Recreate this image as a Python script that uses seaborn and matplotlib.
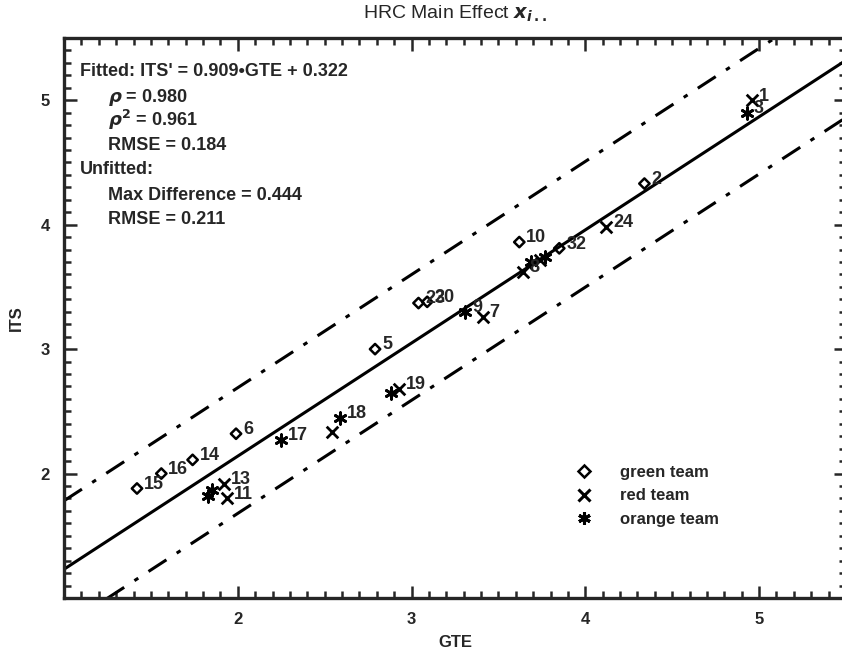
import numpy as np
import pandas as pd
import matplotlib
matplotlib.use("Agg")
import matplotlib.pyplot as plt
from matplotlib.lines import Line2D
from matplotlib.ticker import MultipleLocator
import seaborn as sns

# point data
teams = ["green team"] * 10 + ["red team"] * 9 + ["orange team"] * 9
labels = ["15", "16", "14", "6", "5", "23", "20", "10", "2", "32",
          "13", "11", "4", "19", "7", "8", "24", "1", "12",
          "3", "21", "17", "18", "9", "22", "27", "26", "25"]
gte = [1.42, 1.56, 1.74, 1.99, 2.79, 3.04, 3.09, 3.62, 4.34, 3.85,
       1.92, 1.94, 2.54, 2.93, 3.41, 3.64, 4.12, 4.96, 3.74,
       4.93, 2.88, 2.25, 2.59, 3.31, 3.77, 1.83, 1.85, 3.69]
its = [1.88, 2.00, 2.11, 2.32, 3.00, 3.37, 3.38, 3.86, 4.33, 3.81,
       1.92, 1.80, 2.33, 2.68, 3.26, 3.62, 3.98, 5.00, 3.72,
       4.90, 2.65, 2.27, 2.45, 3.30, 3.74, 1.82, 1.87, 3.70]
# only some labels are readable in the original
shown = [True] * 10 + [True, True, False, True, True, True, True, True, False,
                       True, False, True, True, True, False, False, False, False]

slope = 0.909
intercept = 0.322
upper_off = 0.55
lower_off = -0.46

df = pd.DataFrame({"GTE": gte, "ITS": its, "team": teams, "label": labels, "shown": shown})

sns.set_style("ticks")
plt.rcParams["font.family"] = ["Liberation Sans", "DejaVu Sans"]
plt.rcParams["font.weight"] = "bold"
plt.rcParams["mathtext.fontset"] = "dejavusans"

fig = plt.figure(figsize=(8.42, 6.56), dpi=100)
ax = fig.add_axes([64 / 842, 58 / 656, 782 / 842, 560 / 656])

# fit line and band
xl = np.array([1.0, 5.5])
fit = slope * xl + intercept
sns.lineplot(x=xl, y=fit, color="black", lw=2.2, ax=ax)
sns.lineplot(x=xl, y=fit + upper_off, color="black", lw=2.2, ax=ax,
             linestyle=(0, (7, 4, 1.5, 4)))
sns.lineplot(x=xl, y=fit + lower_off, color="black", lw=2.2, ax=ax,
             linestyle=(0, (7, 4, 1.5, 4)))

markers = {"green team": "D", "red team": "x", "orange team": (6, 2, 0)}
for team, sub in df.groupby("team"):
    if team == "green team":
        sns.scatterplot(data=sub, x="GTE", y="ITS", marker="D", s=28,
                        facecolor="none", edgecolor="black", linewidth=1.8, ax=ax)
    else:
        sns.scatterplot(data=sub, x="GTE", y="ITS", marker=markers[team], s=70,
                        color="black", linewidth=2.0, ax=ax)

for _, r in df[df["shown"]].iterrows():
    ax.annotate(r["label"], (r["GTE"], r["ITS"]), xytext=(5, 3),
                textcoords="offset points", fontsize=13, fontweight="bold",
                va="center", ha="left")

ax.set_xlim(1, 5.5)
ax.set_ylim(1, 5.5)
ax.xaxis.set_minor_locator(MultipleLocator(0.1))
ax.yaxis.set_minor_locator(MultipleLocator(0.1))
ax.set_xticks([2, 3, 4, 5])
ax.set_yticks([2, 3, 4, 5])
ax.tick_params(which="both", direction="in", top=True, right=True, width=1.8,
               labelsize=12, pad=10)
ax.tick_params(which="major", length=9)
ax.tick_params(which="minor", length=5)
for s in ax.spines.values():
    s.set_linewidth(2.4)
    s.set_visible(True)

ax.set_xlabel("GTE", fontsize=12, fontweight="bold", labelpad=6)
ax.set_ylabel("ITS", fontsize=12, fontweight="bold", labelpad=12)
ax.set_title(r"HRC Main Effect $x_{i\,..}$", fontsize=14, fontweight="normal", pad=14)

# stats text block
stats = [
    (80, 71, "Fitted: ITS' = 0.909\u2022GTE + 0.322"),
    (108, 97, r"$\rho$ = 0.980"),
    (108, 120, r"$\rho^2$ = 0.961"),
    (108, 145, "RMSE = 0.184"),
    (80, 170, "Unfitted:"),
    (108, 195, "Max Difference = 0.444"),
    (108, 219, "RMSE = 0.211"),
]
for px, py, t in stats:
    ax.text((px - 64) / 782, (598 - py) / 560, t, transform=ax.transAxes,
            fontsize=13, fontweight="bold", va="center", ha="left")

handles = [
    Line2D([], [], marker="D", linestyle="none", markerfacecolor="none",
           markeredgecolor="black", markersize=6, markeredgewidth=1.8),
    Line2D([], [], marker="x", linestyle="none", color="black",
           markersize=9, markeredgewidth=2.2),
    Line2D([], [], marker=(6, 2, 0), linestyle="none", color="black",
           markersize=9, markeredgewidth=2.2),
]
ax.legend(handles, ["green team", "red team", "orange team"], loc="upper left",
          bbox_to_anchor=((552 - 64) / 782, (598 - 450) / 560), frameon=False,
          fontsize=12, handletextpad=1.2, labelspacing=0.5)

fig.savefig("out.png", dpi=100)
